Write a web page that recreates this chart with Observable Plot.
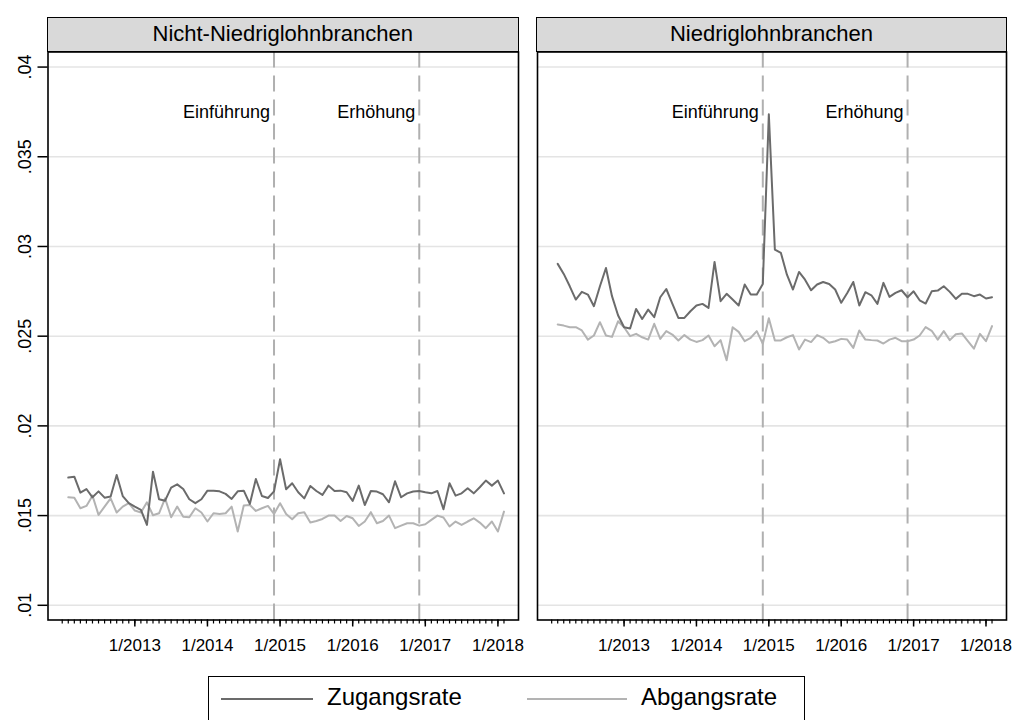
<!DOCTYPE html>
<html>
<head>
<meta charset="utf-8">
<script src="https://cdn.jsdelivr.net/npm/d3@7"></script>
<script src="https://cdn.jsdelivr.net/npm/@observablehq/plot@0.6"></script>
<style>
  html, body { margin: 0; padding: 0; background: #fff; }
  body { font-family: "Liberation Sans", Arial, Helvetica, sans-serif; }
  #wrap { position: relative; width: 1012px; height: 720px; overflow: hidden; background: #fff; }
  .pane { position: absolute; top: 0; }
  .hdr { position: absolute; top: 17px; height: 35px; box-sizing: border-box; border: 1.5px solid #000;
         background: #d9d9d9; font-size: 22px; line-height: 32px; text-align: center; color: #000; }
  #legend { position: absolute; left: 208px; top: 676px; width: 597px; height: 44px; box-sizing: border-box;
            border: 1.5px solid #000; border-bottom: none; background: #fff; }
  .lg-line { position: absolute; top: 21px; height: 2px; }
  .lg-text { position: absolute; top: 6px; font-size: 24px; line-height: 28px; color: #000; }
</style>
</head>
<body>
<div id="wrap"></div>
<script>
// ---------------- data ----------------
const panels = ["Nicht-Niedriglohnbranchen", "Niedriglohnbranchen"];
const seriesNames = ["Zugangsrate", "Abgangsrate"];
const firstYear = 2012;            // month index 0 = 1/2012
const firstObsIndex = 1;           // first observation: 2/2012
const tickYears = [2013, 2014, 2015, 2016, 2017, 2018];
const minorTickRange = [0, 73];    // 1/2012 ... 2/2018
const eventMonths = [35, 59];      // 12/2014, 12/2016
const eventLabels = ["Einführung", "Erhöhung"];
const eventLabelY = 0.0375;
const yTicks = [0.01, 0.015, 0.02, 0.025, 0.03, 0.035, 0.04];
const yTickLabels = [".01", ".015", ".02", ".025", ".03", ".035", ".04"];

const zugangNicht = [
  0.01712, 0.01717, 0.01628, 0.01648, 0.01602, 0.01635, 0.01600, 0.01606, 0.01726, 0.01609,
  0.01569, 0.01550, 0.01532, 0.01448, 0.01745, 0.01591, 0.01583, 0.01656, 0.01674, 0.01648,
  0.01591, 0.01569, 0.01591, 0.01639, 0.01639, 0.01635, 0.01621, 0.01593, 0.01635, 0.01639,
  0.01565, 0.01704, 0.01609, 0.01598, 0.01635, 0.01814, 0.01647, 0.01680, 0.01630, 0.01596,
  0.01665, 0.01637, 0.01615, 0.01667, 0.01637, 0.01639, 0.01630, 0.01582, 0.01667, 0.01559,
  0.01637, 0.01634, 0.01619, 0.01574, 0.01691, 0.01602, 0.01624, 0.01634, 0.01637, 0.01630,
  0.01624, 0.01637, 0.01535, 0.01680, 0.01611, 0.01624, 0.01652, 0.01624, 0.01658, 0.01695,
  0.01667, 0.01695, 0.01624
];
const abgangNicht = [
  0.01602, 0.01600, 0.01541, 0.01554, 0.01611, 0.01504, 0.01550, 0.01596, 0.01517, 0.01550,
  0.01569, 0.01528, 0.01517, 0.01574, 0.01502, 0.01513, 0.01596, 0.01491, 0.01550, 0.01494,
  0.01491, 0.01541, 0.01517, 0.01467, 0.01513, 0.01509, 0.01513, 0.01550, 0.01411, 0.01556,
  0.01559, 0.01526, 0.01541, 0.01554, 0.01509, 0.01569, 0.01509, 0.01480, 0.01513, 0.01519,
  0.01461, 0.01470, 0.01481, 0.01500, 0.01500, 0.01470, 0.01498, 0.01485, 0.01442, 0.01467,
  0.01519, 0.01457, 0.01470, 0.01500, 0.01430, 0.01444, 0.01457, 0.01457, 0.01444, 0.01452,
  0.01476, 0.01500, 0.01489, 0.01439, 0.01467, 0.01448, 0.01467, 0.01485, 0.01461, 0.01430,
  0.01467, 0.01411, 0.01522
];
const zugangNiedrig = [
  0.02903, 0.02847, 0.02778, 0.02704, 0.02747, 0.02732, 0.02667, 0.02778, 0.02880, 0.02723,
  0.02617, 0.02550, 0.02543, 0.02652, 0.02596, 0.02648, 0.02606, 0.02717, 0.02763, 0.02682,
  0.02602, 0.02602, 0.02639, 0.02671, 0.02680, 0.02658, 0.02914, 0.02695, 0.02736, 0.02704,
  0.02671, 0.02788, 0.02732, 0.02732, 0.02791, 0.03737, 0.02982, 0.02964, 0.02843, 0.02760,
  0.02858, 0.02815, 0.02756, 0.02788, 0.02802, 0.02791, 0.02760, 0.02686, 0.02741, 0.02802,
  0.02671, 0.02745, 0.02728, 0.02680, 0.02797, 0.02719, 0.02741, 0.02756, 0.02717, 0.02750,
  0.02700, 0.02682, 0.02750, 0.02754, 0.02778, 0.02747, 0.02708, 0.02736, 0.02736, 0.02723,
  0.02732, 0.02710, 0.02717
];
const abgangNiedrig = [
  0.02565, 0.02559, 0.02550, 0.02550, 0.02532, 0.02481, 0.02504, 0.02578, 0.02504, 0.02496,
  0.02583, 0.02550, 0.02500, 0.02513, 0.02494, 0.02481, 0.02569, 0.02485, 0.02528, 0.02509,
  0.02476, 0.02506, 0.02481, 0.02468, 0.02478, 0.02504, 0.02444, 0.02478, 0.02366, 0.02550,
  0.02524, 0.02472, 0.02491, 0.02528, 0.02457, 0.02600, 0.02476, 0.02476, 0.02494, 0.02506,
  0.02426, 0.02481, 0.02467, 0.02506, 0.02491, 0.02463, 0.02472, 0.02485, 0.02481, 0.02435,
  0.02532, 0.02481, 0.02478, 0.02476, 0.02459, 0.02481, 0.02491, 0.02472, 0.02472, 0.02481,
  0.02504, 0.02551, 0.02530, 0.02481, 0.02528, 0.02478, 0.02511, 0.02515, 0.02472, 0.02430,
  0.02513, 0.02472, 0.02556
];
const seriesColors = ["#6b6b6b", "#b3b3b3"];

// ---------------- chart ----------------
const FONT = '"Liberation Sans", Arial, Helvetica, sans-serif';
const H = 660, TOP = 51.5, BOTTOM = 619.5;
const xDomain = [-2.35, 75.4];
const yDomain = [0.00918, 0.04084];
const majorTicks = tickYears.map(y => (y - firstYear) * 12);
const minorTicks = d3.range(minorTickRange[0], minorTickRange[1] + 1);

function toRows(values) {
  return values.map((v, k) => ({ t: firstObsIndex + k, v }));
}

function panel({ zug, abg, width, ml, mr, showY }) {
  return Plot.plot({
    width, height: H,
    marginLeft: ml, marginRight: mr, marginTop: TOP, marginBottom: H - BOTTOM,
    style: { fontFamily: FONT, background: "transparent", overflow: "visible" },
    x: { type: "linear", domain: xDomain, label: null },
    y: { domain: yDomain, axis: null, label: null },
    marks: [
      Plot.ruleY(yTicks, { stroke: "#e4e4e4", strokeWidth: 1.6 }),
      Plot.ruleX(eventMonths, { stroke: "#b0b0b0", strokeWidth: 2, strokeDasharray: "16,8" }),
      Plot.text(eventLabels, {
        x: (d, i) => eventMonths[i], y: eventLabelY, text: d => d,
        textAnchor: "end", dx: -4, fontSize: 18, fill: "#000"
      }),
      Plot.line(toRows(abg), { x: "t", y: "v", stroke: seriesColors[1], strokeWidth: 2 }),
      Plot.line(toRows(zug), { x: "t", y: "v", stroke: seriesColors[0], strokeWidth: 2 }),
      Plot.frame({ stroke: "#000", strokeWidth: 1.6 }),
      Plot.axisX(minorTicks, { tickSize: 4, tickFormat: () => "", strokeWidth: 1.2, label: null }),
      Plot.axisX(majorTicks, {
        tickSize: 7, tickPadding: 12, strokeWidth: 1.5, fontSize: 17, fill: "#000", label: null,
        tickFormat: i => `1/${firstYear + i / 12}`
      }),
      showY ? Plot.axisY(yTicks, { tickSize: 10, tickFormat: () => "", strokeWidth: 1.5, label: null }) : null,
      showY ? Plot.text(yTicks, {
        frameAnchor: "left", y: d => d, text: (d, i) => yTickLabels[i],
        rotate: -90, textAnchor: "middle", lineAnchor: "bottom", dx: -17, fontSize: 18, fill: "#000"
      }) : null
    ]
  });
}

const wrap = document.getElementById("wrap");

const leftW = 527, rightX = 527, rightW = 485;
const p1 = panel({ zug: zugangNicht, abg: abgangNicht, width: leftW, ml: 47.5, mr: leftW - 518, showY: true });
const p2 = panel({ zug: zugangNiedrig, abg: abgangNiedrig, width: rightW, ml: 537 - rightX, mr: rightX + rightW - 1006, showY: false });

const d1 = document.createElement("div"); d1.className = "pane"; d1.style.left = "0px"; d1.appendChild(p1);
const d2 = document.createElement("div"); d2.className = "pane"; d2.style.left = rightX + "px"; d2.appendChild(p2);
wrap.appendChild(d1); wrap.appendChild(d2);

// panel headers
[[47.5, 518, panels[0]], [537, 1006, panels[1]]].forEach(([x0, x1, t]) => {
  const h = document.createElement("div");
  h.className = "hdr";
  h.style.left = x0 - 0.75 + "px";
  h.style.width = (x1 - x0 + 1.5) + "px";
  h.textContent = t;
  wrap.appendChild(h);
});

// legend
const lg = document.createElement("div");
lg.id = "legend";
const items = [
  { x0: 12, x1: 104, tx: 118, name: seriesNames[0], color: seriesColors[0] },
  { x0: 318, x1: 418, tx: 432, name: seriesNames[1], color: seriesColors[1] }
];
items.forEach(it => {
  const l = document.createElement("div");
  l.className = "lg-line";
  l.style.left = it.x0 + "px"; l.style.width = (it.x1 - it.x0) + "px"; l.style.background = it.color;
  const t = document.createElement("div");
  t.className = "lg-text"; t.style.left = it.tx + "px"; t.textContent = it.name;
  lg.appendChild(l); lg.appendChild(t);
});
wrap.appendChild(lg);
</script>
</body>
</html>
